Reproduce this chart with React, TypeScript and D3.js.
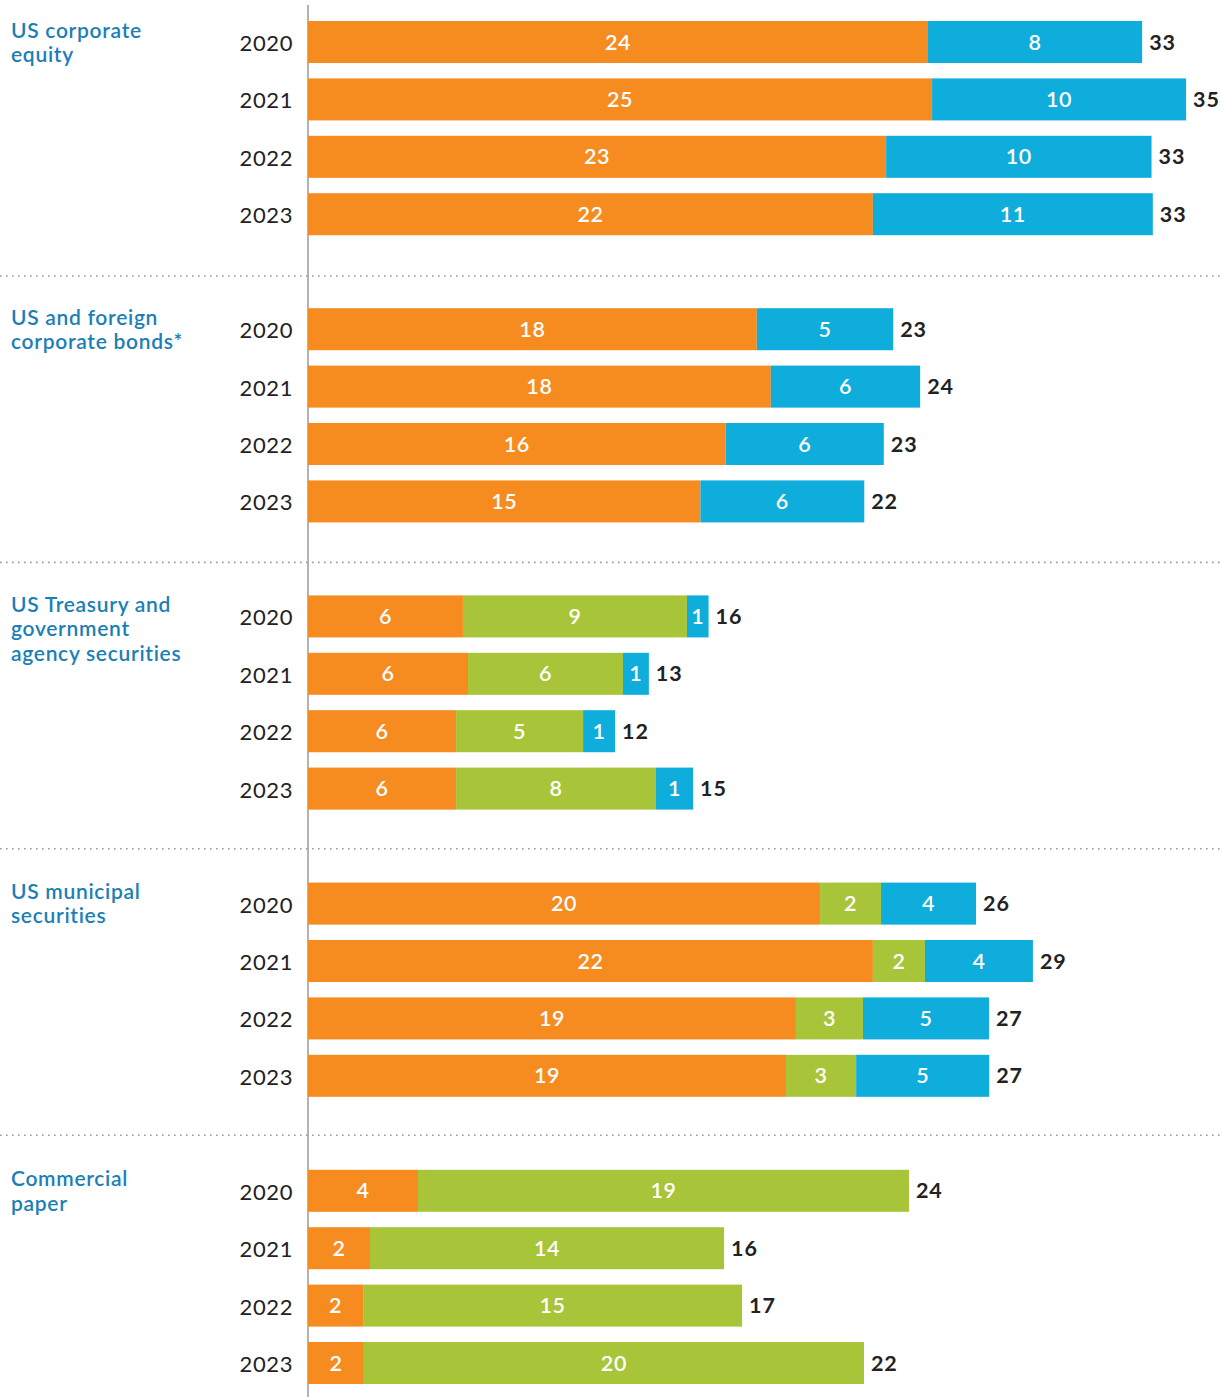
import React from "react";
import * as d3 from "d3";

const groupLines: string[][] = [
  ["US corporate", "equity"],
  ["US and foreign", "corporate bonds*"],
  ["US Treasury and", "government", "agency securities"],
  ["US municipal", "securities"],
  ["Commercial", "paper"],
];
const years = ["2020", "2021", "2022", "2023"];
const orangeValues = [
  [24.41, 24.57, 22.76, 22.24],
  [17.67, 18.22, 16.44, 15.45],
  [6.1, 6.3, 5.83, 5.83],
  [20.16, 22.24, 19.21, 18.82],
  [4.33, 2.44, 2.17, 2.2],
];
const greenValues = [
  [0, 0, 0, 0],
  [0, 0, 0, 0],
  [8.82, 6.1, 5.0, 7.87],
  [2.4, 2.05, 2.64, 2.76],
  [19.33, 13.94, 14.92, 19.69],
];
const blueValues = [
  [8.43, 10.0, 10.45, 11.02],
  [5.37, 5.88, 6.23, 6.45],
  [0.85, 1.02, 1.26, 1.46],
  [3.74, 4.25, 4.96, 5.24],
  [0, 0, 0, 0],
];
const seriesKeys = ["orange", "green", "blue"];
const seriesColors: Record<string, string> = {
  orange: "#F68B1F",
  green: "#A8C539",
  blue: "#0FADDB",
};

const W = 1221;
const H = 1397;
const FONT = "Lato, 'Noto Sans', sans-serif";

export default function App() {
  const x = d3.scaleLinear().domain([0, 35]).range([308, 308 + 35 * 25.4]);
  const groupStep = 287.2;
  const yearBand = d3
    .scaleBand<string>()
    .domain(years)
    .range([0, 4 * 57.4])
    .paddingInner(0.268)
    .paddingOuter(0.134);
  const firstOffset = yearBand(years[0]) as number;
  const groupOrigin = (gi: number) => 21 - firstOffset + gi * groupStep;
  const groupBarTop = (gi: number) => groupOrigin(gi) + firstOffset;

  const rows: any[] = [];
  groupLines.forEach((_, gi) => {
    years.forEach((yr, yi) => {
      rows.push({
        gi,
        year: yr,
        orange: orangeValues[gi][yi],
        green: greenValues[gi][yi],
        blue: blueValues[gi][yi],
      });
    });
  });
  const stacked = d3.stack<any>().keys(seriesKeys)(rows);

  const separators = groupLines.slice(1).map((_, i) => groupBarTop(i) + 255 - 0.8 * i);

  return (
    <svg
      width={W}
      height={H}
      style={{ position: "absolute", left: 0, top: 0, background: "#fff" }}
      fontFamily={FONT}
    >
      {separators.map((y, i) => (
        <line
          key={"sep" + i}
          x1={0}
          x2={W}
          y1={y}
          y2={y}
          stroke="#9a9a9a"
          strokeWidth={1.6}
          strokeDasharray="1.6 4.4"
        />
      ))}
      <line x1={308} x2={308} y1={5} y2={H} stroke="#9a9a9a" strokeWidth={1.5} />
      {groupLines.map((lines, gi) => (
        <text
          key={"g" + gi}
          x={11}
          y={groupBarTop(gi) + 16.5}
          fill="#1b7fb6"
          fontSize={21}
          fontWeight={600}
          letterSpacing={0.7}
        >
          {lines.map((l, li) => (
            <tspan key={li} x={11} dy={li === 0 ? 0 : 24.3}>
              {l}
            </tspan>
          ))}
        </text>
      ))}
      {rows.map((r, i) => {
        const y0 = groupOrigin(r.gi) + (yearBand(r.year) as number);
        const cy = y0 + yearBand.bandwidth() / 2;
        const total = r.orange + r.green + r.blue;
        return (
          <g key={"row" + i}>
            <text x={293} y={cy + 9} textAnchor="end" fontSize={22} fill="#222" letterSpacing={0.6}>
              {r.year}
            </text>
            <text
              x={x(total) + 7}
              y={cy + 7.5}
              fontSize={21.5}
              fontWeight={700}
              fill="#222"
              letterSpacing={0.9}
            >
              {Math.round(total)}
            </text>
          </g>
        );
      })}
      {stacked.map((s) => (
        <g key={s.key}>
          {s.map((d, i) => {
            const r = rows[i];
            const v = d[1] - d[0];
            if (v <= 0) return null;
            const y0 = groupOrigin(r.gi) + (yearBand(r.year) as number);
            const cy = y0 + yearBand.bandwidth() / 2;
            return (
              <g key={i}>
                <rect
                  x={x(d[0])}
                  y={y0}
                  width={x(d[1]) - x(d[0])}
                  height={yearBand.bandwidth()}
                  fill={seriesColors[s.key]}
                />
                <text
                  x={(x(d[0]) + x(d[1])) / 2}
                  y={cy + 7.5}
                  textAnchor="middle"
                  fontSize={21.5}
                  fontWeight={600}
                  fill="#fff"
                  letterSpacing={0.6}
                >
                  {Math.round(v)}
                </text>
              </g>
            );
          })}
        </g>
      ))}
    </svg>
  );
}
